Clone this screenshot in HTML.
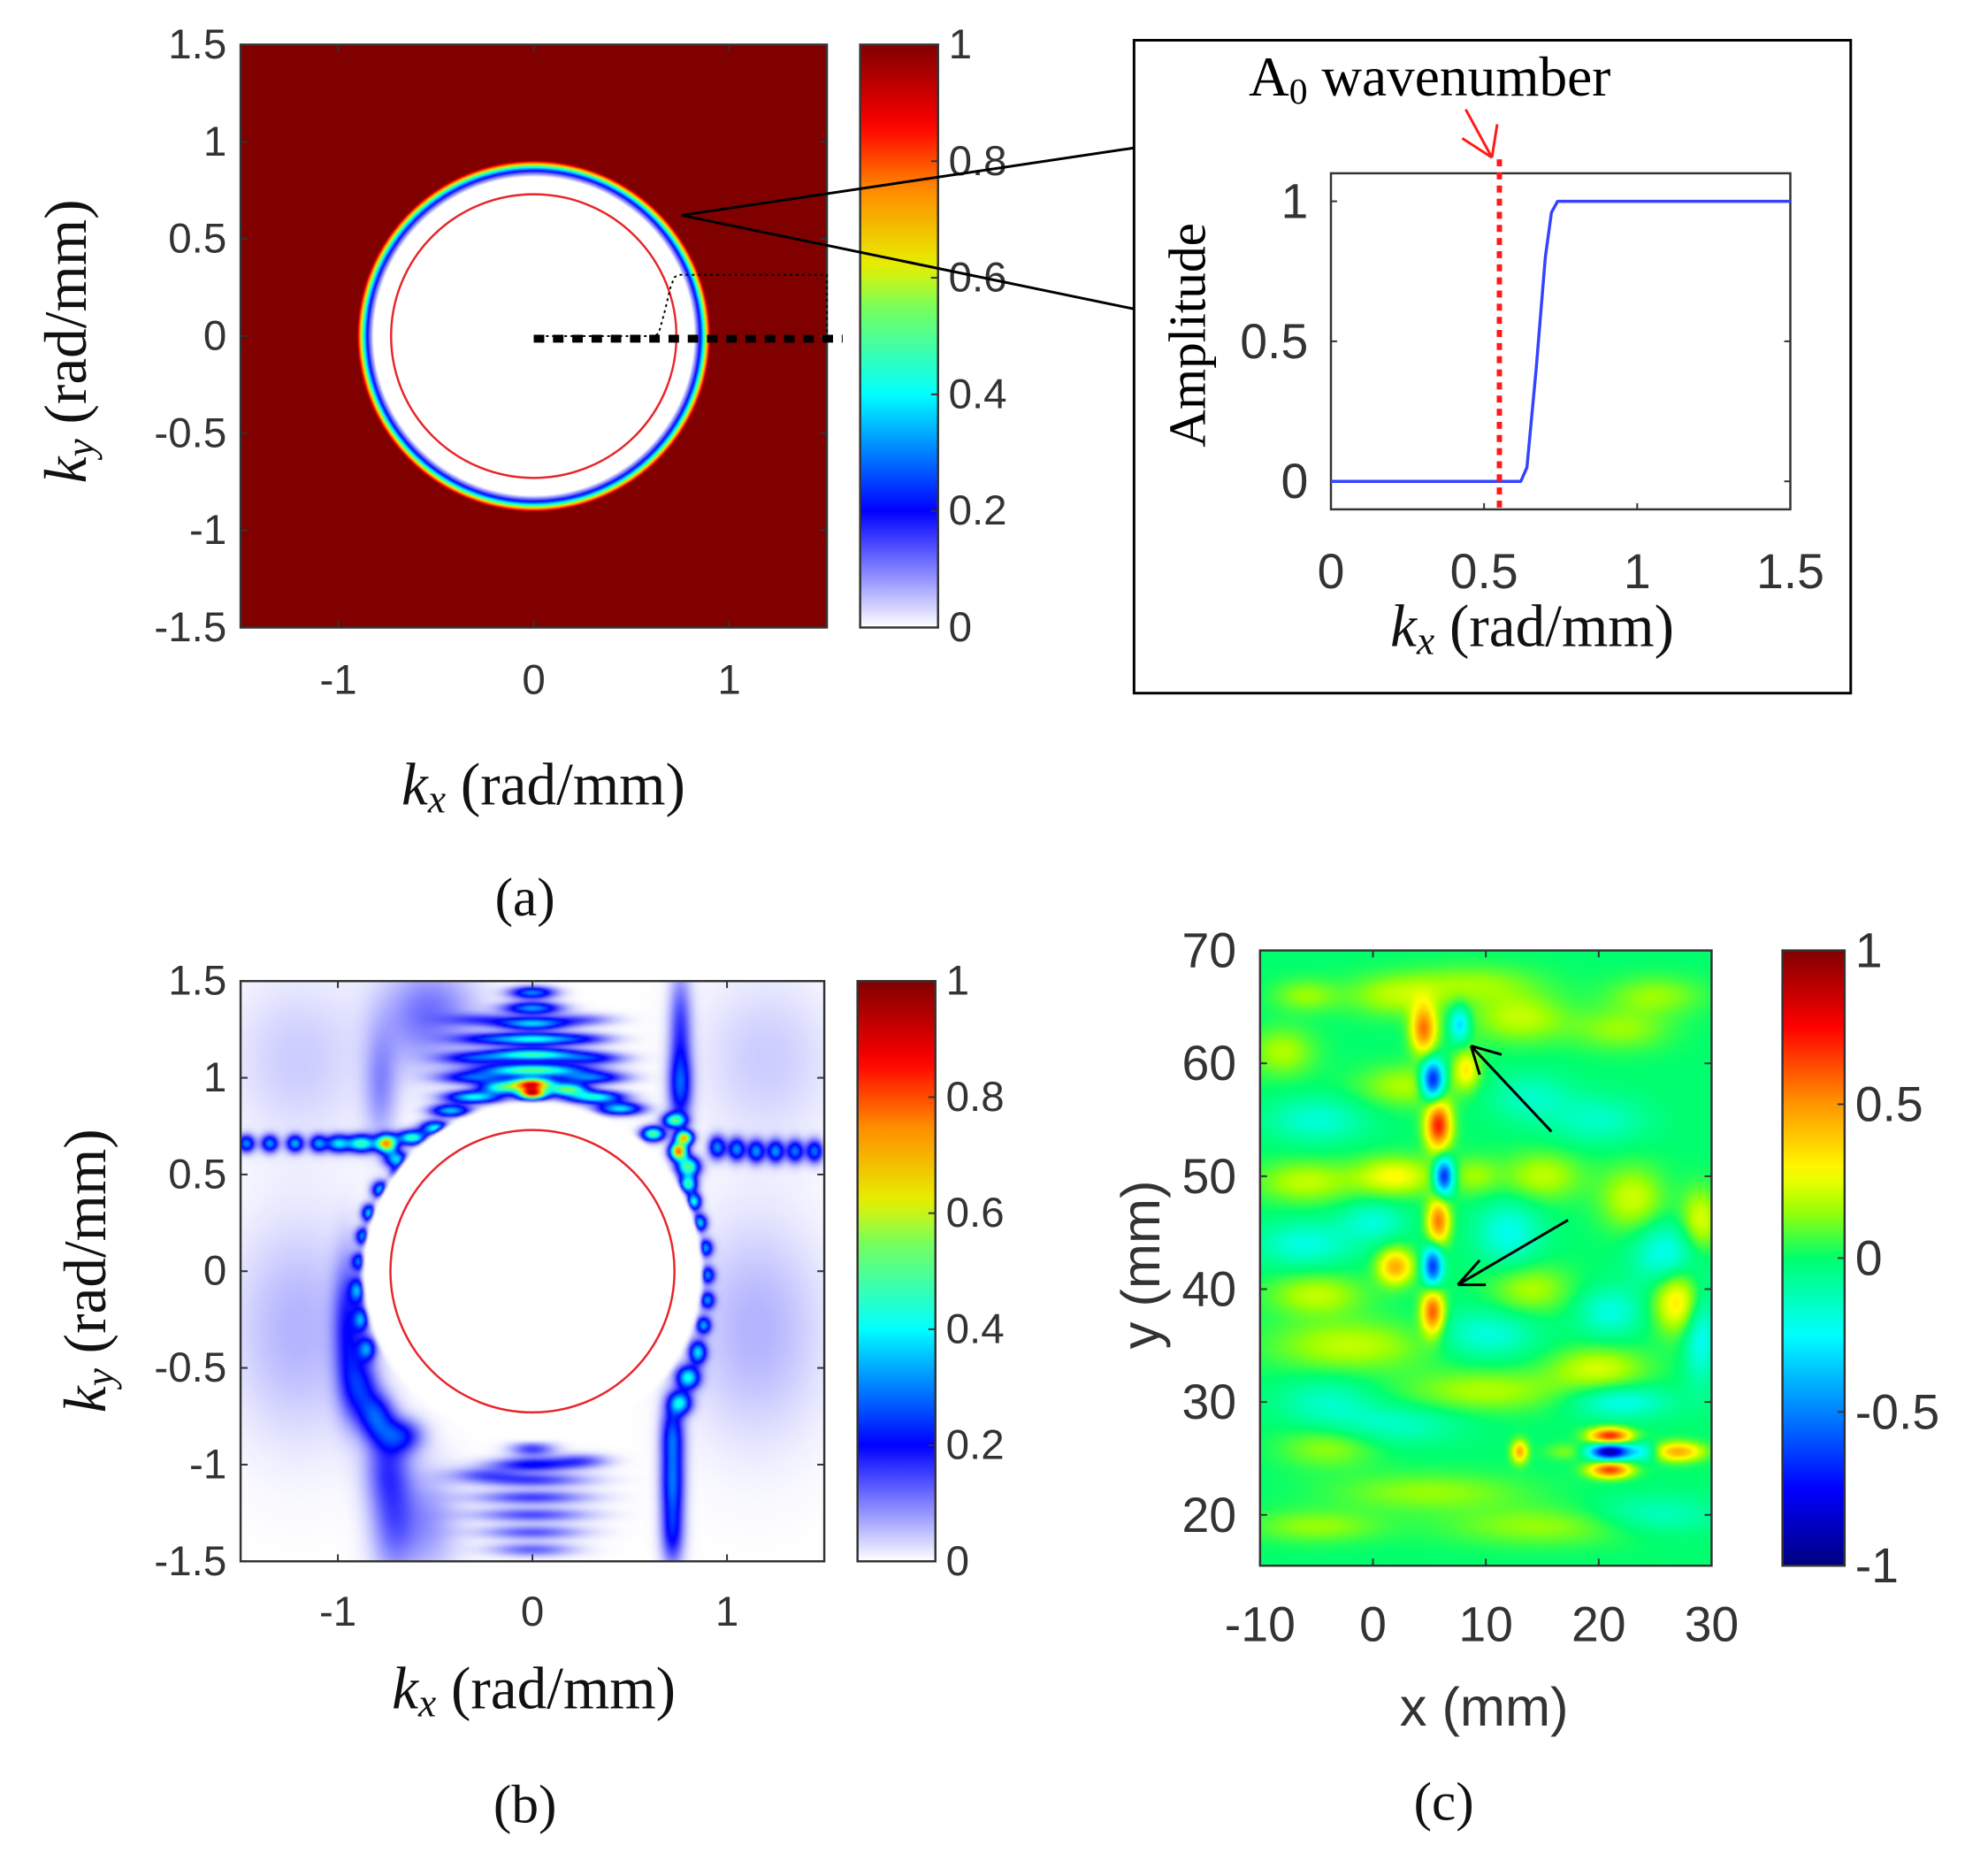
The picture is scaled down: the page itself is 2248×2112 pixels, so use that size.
<!DOCTYPE html>
<html><head><meta charset="utf-8"><style>
html,body{margin:0;padding:0;background:#fff;}
#outer{position:relative;width:2248px;height:2112px;overflow:hidden;background:#fff;}
#root{position:absolute;left:0;top:0;width:2248px;height:2112px;transform:scale(0.9895);transform-origin:280px 0;}
canvas{position:absolute;}
svg{position:absolute;left:0;top:0;}
</style></head><body>
<div id="outer">
<div id="root">
<canvas id="ca" style="left:272px;top:51px" width="670" height="666"></canvas>
<canvas id="cb" style="left:272px;top:1121px" width="667" height="663"></canvas>
<canvas id="cc" style="left:1437px;top:1086px" width="516" height="703"></canvas>
<svg id="ov" width="2248" height="2112"></svg>
</div>
</div>
<script>
// ---------- data ----------
const ringR = [0, 0.82, 0.845, 0.86, 0.875, 0.89, 0.905];
const ringV = [0, 0, 0.15, 0.3, 0.5, 0.75, 1];
const redCircleR = 0.73;
const profKx = [0, 0.62, 0.64, 0.67, 0.70, 0.72, 0.74, 1.5];
const profAmp = [0, 0, 0.05, 0.4, 0.8, 0.96, 1, 1];
const a0Wavenumber = 0.55;
const insetXTicks = [0, 0.5, 1, 1.5];
const insetYTicks = [0, 0.5, 1];
const kTicks = [-1, 0, 1];
const kyTicks = [1.5, 1, 0.5, 0, -0.5, -1, -1.5];
const kyTickLabels = ['1.5','1','0.5','0','-0.5','-1','-1.5'];
const cbTicks01 = [0, 0.2, 0.4, 0.6, 0.8, 1];
// panel (b): blobs [kx, ky, amp, sx, sy]
const bBlobs = [
 [0,0.92,0.85,0.05,0.022],[0,0.97,0.75,0.07,0.02],[-0.15,0.95,0.45,0.08,0.022],[0.18,0.94,0.5,0.07,0.022],
 [0,1.04,0.5,0.18,0.022],[0,1.12,0.45,0.16,0.022],[0,1.2,0.38,0.14,0.022],[0,1.28,0.35,0.12,0.022],
 [0,1.36,0.32,0.1,0.022],[0,1.44,0.3,0.08,0.022],
 [-0.3,0.9,0.4,0.1,0.022],[0.32,0.9,0.42,0.1,0.022],[-0.42,0.83,0.35,0.07,0.022],[0.45,0.84,0.38,0.08,0.022],
 [-0.3,1.0,0.25,0.12,0.022],[0.3,1.0,0.28,0.12,0.022],[-0.3,1.1,0.2,0.12,0.022],[0.3,1.1,0.2,0.12,0.022],
 [-0.25,1.2,0.15,0.12,0.022],[0.25,1.2,0.15,0.12,0.022],[-0.25,1.3,0.12,0.12,0.022],[0.25,1.3,0.12,0.12,0.022],
 [-0.75,0.66,0.7,0.035,0.03],[-0.62,0.69,0.45,0.05,0.025],[-0.88,0.66,0.45,0.05,0.03],[-0.5,0.74,0.4,0.05,0.025],
 [-1.0,0.66,0.35,0.04,0.03],[-1.1,0.66,0.3,0.03,0.03],[-1.22,0.66,0.32,0.03,0.03],[-1.35,0.66,0.3,0.03,0.03],[-1.47,0.66,0.3,0.03,0.03],
 [-0.7,0.58,0.35,0.04,0.03],[-0.68,0.5,0.35,0.03,0.03],
 [0.75,0.62,0.75,0.03,0.03],[0.78,0.69,0.65,0.03,0.025],[0.62,0.71,0.5,0.04,0.025],[0.8,0.54,0.5,0.04,0.035],
 [0.73,0.78,0.45,0.04,0.025],[0.8,0.45,0.45,0.03,0.03],[0.83,0.36,0.4,0.025,0.03],
 [0.95,0.64,0.3,0.03,0.04],[1.05,0.63,0.3,0.03,0.04],[1.15,0.62,0.3,0.03,0.04],[1.25,0.62,0.3,0.03,0.04],[1.35,0.62,0.28,0.03,0.04],[1.45,0.62,0.28,0.03,0.04],
 [-0.78,0.42,0.35,0.03,0.03],[-0.84,0.3,0.35,0.025,0.03],[-0.87,0.18,0.3,0.025,0.03],[-0.89,0.05,0.25,0.025,0.03],
 [-0.9,-0.1,0.25,0.025,0.04],[-0.88,-0.25,0.25,0.025,0.04],[-0.85,-0.4,0.25,0.03,0.04],
 [0.86,0.25,0.35,0.025,0.03],[0.89,0.12,0.3,0.025,0.03],[0.9,-0.02,0.28,0.025,0.03],[0.9,-0.15,0.28,0.025,0.03],[0.88,-0.28,0.3,0.025,0.03],
 [0.85,-0.42,0.35,0.03,0.04],[0.8,-0.55,0.4,0.04,0.04],[0.76,-0.68,0.35,0.04,0.04],
 [-0.95,-0.3,0.16,0.05,0.25],[-0.88,-0.6,0.18,0.06,0.12],[-0.8,-0.75,0.2,0.06,0.08],[-0.68,-0.85,0.18,0.08,0.06],
 [-0.75,-1.0,0.12,0.08,0.15],[-0.72,-1.3,0.1,0.08,0.2],
 [0.72,-0.85,0.25,0.04,0.12],[0.72,-1.1,0.24,0.04,0.12],[0.72,-1.35,0.2,0.04,0.12],
 [0.76,0.95,0.22,0.04,0.12],[0.76,1.25,0.15,0.04,0.2],[-0.78,0.95,0.08,0.06,0.2],[-0.6,1.3,0.07,0.15,0.2],
 [0,-0.92,0.15,0.08,0.025],[0,-1.0,0.2,0.15,0.025],[0,-1.08,0.15,0.2,0.025],[0,-1.17,0.15,0.2,0.025],
 [0,-1.26,0.14,0.2,0.025],[0,-1.35,0.13,0.18,0.025],[0,-1.44,0.12,0.15,0.025],[-0.25,-1.05,0.1,0.12,0.025],[0.25,-0.98,0.12,0.1,0.025],
 [-1.2,-0.3,0.06,0.25,0.4],[1.15,-0.3,0.06,0.25,0.4],[-1.2,1.1,0.04,0.25,0.3],[1.2,1.1,0.04,0.25,0.3],
 [-0.55,-1.3,0.08,0.12,0.2],[-0.45,1.35,0.06,0.15,0.15]
];
const bHoleR = 0.86;
// panel (c): blobs [x, y, amp, sx, sy]
const cBlobs = [
 [4.5,63,0.55,0.8,1.5],[7.7,63.5,-0.35,0.6,1.1],[5.3,58.5,-0.8,0.7,1.2],[8.3,59.5,0.3,0.8,1.2],
 [5.8,54.5,0.7,0.8,1.5],[6.3,50,-0.75,0.6,1.1],[2,50,0.28,2.5,1.2],[9,50,0.15,1.5,1.2],
 [5.8,46,0.55,0.7,1.4],[5.3,42,-0.65,0.6,1.2],[2,42,0.45,1.1,1.1],[5.3,38,0.6,0.7,1.4],
 [21,27,0.7,1.3,0.5],[21,25.6,-0.95,1.2,0.5],[21,24,0.65,1.3,0.5],[27,25.6,0.45,1.6,0.6],[13,25.6,0.45,0.5,0.7],
 [17,25.6,0.12,1.2,0.5],[24,25.6,-0.25,1,0.6],
 [-6,49.5,0.2,3,1.3],[-5,55,-0.18,3,1.4],[-6,44,-0.2,3,1.4],[-5,39.5,0.2,3,1.3],[-2,35,0.2,5,1.6],
 [-4,30,-0.15,3,1.5],[-4,26,0.15,3,1.3],[3,58,0.18,3,1.3],[2,66,0.18,3,1.3],[-6,66,0.15,2,1],[-8,61,0.18,2,1.5],
 [12,45,-0.22,2,2],[15,50,0.2,2.5,1.5],[14,57,-0.15,2.5,1.5],[13,64,0.2,3,1.5],[22,63,0.15,3,1.3],
 [20,55,-0.15,3,1.5],[23,48,0.22,2,2],[26,43,-0.25,2,2],[27,39,0.35,1.5,2],[29,46,0.25,1.2,2],
 [29,36,-0.25,1,3],[21,38,-0.2,2,1.5],[20,33,0.22,3,1.3],[22,30,-0.22,3,1],[10,31,0.18,5,1.3],
 [2,28,-0.15,4,1.2],[5,22,0.15,6,1.2],[15,19,0.15,6,1.2],[-5,19,0.15,4,1],[25,20,-0.15,4,1.2],
 [10,36,-0.2,3,1.5],[14,40,0.18,2.5,1.5],[0,46,-0.18,2,1.2],[9,67,0.15,4,1.2],[25,66,0.15,3,1.2]
];
const cXTicks = [-10, 0, 10, 20, 30];
const cYTicks = [70, 60, 50, 40, 30, 20];
const cCbTicks = [1, 0.5, 0, -0.5, -1];
const cCbLabels = ['1','0.5','0','-0.5','-1'];

// ---------- colormaps ----------
function cl(v){return Math.max(0,Math.min(1,v));}
function mk(stops){return function(t){t=cl(t);for(let i=1;i<stops.length;i++){if(t<=stops[i][0]){const a=stops[i-1],b=stops[i];const f=(t-a[0])/(b[0]-a[0]);return a[1].map((v,k)=>Math.round(v+(b[1][k]-v)*f));}}return stops[stops.length-1][1];};}
const wjet=mk([[0,[255,255,255]],[0.2,[0,0,255]],[0.4,[0,255,255]],[0.55,[120,255,90]],[0.62,[230,240,0]],[0.75,[255,140,0]],[0.86,[255,0,0]],[1,[128,0,0]]]);
const cjet=mk([[0,[0,0,128]],[0.125,[0,0,255]],[0.25,[0,130,255]],[0.375,[0,255,255]],[0.5,[0,255,110]],[0.58,[160,255,0]],[0.64,[255,255,0]],[0.75,[255,150,0]],[0.875,[255,0,0]],[1,[128,0,0]]]);
function interp(xs,ys,x){if(x<=xs[0])return ys[0];for(let i=1;i<xs.length;i++){if(x<=xs[i]){return ys[i-1]+(ys[i]-ys[i-1])*(x-xs[i-1])/(xs[i]-xs[i-1]);}}return ys[ys.length-1];}

function drawField(id,xmin,xmax,ymin,ymax,fn,cmap,res){
 const c=document.getElementById(id),W=c.width,H=c.height;
 const gw=Math.round(W/res),gh=Math.round(H/res);
 const off=document.createElement('canvas');off.width=gw;off.height=gh;
 const ox=off.getContext('2d'),img=ox.createImageData(gw,gh);
 for(let j=0;j<gh;j++)for(let i=0;i<gw;i++){
  const x=xmin+(i+0.5)/gw*(xmax-xmin),y=ymax-(j+0.5)/gh*(ymax-ymin);
  const col=cmap(fn(x,y));const p=(j*gw+i)*4;
  img.data[p]=col[0];img.data[p+1]=col[1];img.data[p+2]=col[2];img.data[p+3]=255;}
 ox.putImageData(img,0,0);
 const ctx=c.getContext('2d');ctx.imageSmoothingEnabled=true;ctx.imageSmoothingQuality='high';
 ctx.drawImage(off,0,0,W,H);
}
drawField('ca',-1.5,1.5,-1.5,1.5,(x,y)=>interp(ringR,ringV,Math.hypot(x,y)),wjet,1);
drawField('cb',-1.5,1.5,-1.5,1.5,(x,y)=>{const r=Math.hypot(x,y);if(r<bHoleR)return 0;let s=0;
 for(const b of bBlobs){const dx=(x-b[0])/b[3],dy=(y-b[1])/b[4];s+=b[2]*Math.exp(-0.5*(dx*dx+dy*dy));}
 const edge=cl((r-bHoleR)/0.03);return Math.min(1,s)*edge;},wjet,2);
drawField('cc',-10,30,15.5,70,(x,y)=>{let s=0;
 for(const b of cBlobs){const dx=(x-b[0])/b[3],dy=(y-b[1])/b[4];s+=b[2]*Math.exp(-0.5*(dx*dx+dy*dy));}
 return (Math.max(-1,Math.min(1,s))+1)/2;},cjet,2);

// ---------- SVG overlay ----------
const NS='http://www.w3.org/2000/svg';const ov=document.getElementById('ov');
function el(tag,attrs,parent){const e=document.createElementNS(NS,tag);for(const k in attrs)e.setAttribute(k,attrs[k]);(parent||ov).appendChild(e);return e;}
function txt(s,x,y,anchor,size,family,extra){const t=el('text',Object.assign({x:x,y:y,'text-anchor':anchor,'font-size':size,'font-family':family,fill:'#222','dominant-baseline':'central'},extra||{}));t.textContent=s;return t;}
const SANS='"Liberation Sans", Arial, sans-serif',SERIF='"Liberation Serif", serif';

const defs=el('defs',{});
function grad(id,cmap){const g=el('linearGradient',{id:id,x1:0,y1:1,x2:0,y2:0},defs);
 for(let i=0;i<=40;i++){const t=i/40;const c=cmap(t);el('stop',{offset:t,'stop-color':'rgb('+c.join(',')+')'},g);}}
grad('gW',wjet);grad('gJ',cjet);

function axisBox(L,T,R,B,name){const r=el('rect',{x:L,y:T,width:R-L,height:B-T,fill:'none',stroke:'#333','stroke-width':2.5});
 }

const TF=48;
function kPanel(L,T,R,B,xlabY,prefix){
 const sx=v=>L+(v+1.5)/3*(R-L),sy=v=>B-(v+1.5)/3*(B-T);
 const c=el('ellipse',{cx:sx(0),cy:sy(0),rx:sx(redCircleR)-sx(0),ry:sy(0)-sy(redCircleR),fill:'none',stroke:'#e8262a','stroke-width':2.5});
 
 axisBox(L,T,R,B,prefix+'-axes');
 kTicks.forEach(v=>{el('line',{x1:sx(v),x2:sx(v),y1:B,y2:B-8,stroke:'#333','stroke-width':2});el('line',{x1:sx(v),x2:sx(v),y1:T,y2:T+8,stroke:'#333','stroke-width':2});
  const t=txt(String(v),sx(v),xlabY,'middle',TF,SANS,{fill:'#333'});});
 kyTicks.forEach((v,i)=>{el('line',{x1:L,x2:L+8,y1:sy(v),y2:sy(v),stroke:'#333','stroke-width':2});el('line',{x1:R,x2:R-8,y1:sy(v),y2:sy(v),stroke:'#333','stroke-width':2});
  const t=txt(kyTickLabels[i],L-16,sy(v),'end',TF,SANS,{fill:'#333'});});
 return {sx,sy};
}
function colorbar(L,T,R,B,gid,ticks,labels,vmin,vmax,prefix,fs){
 const r=el('rect',{x:L,y:T,width:R-L,height:B-T,fill:'url(#'+gid+')',stroke:'#333','stroke-width':2.5});
 
 ticks.forEach((v,i)=>{const y=B-(v-vmin)/(vmax-vmin)*(B-T);
  el('line',{x1:R,x2:R-8,y1:y,y2:y,stroke:'#333','stroke-width':2});
  const t=txt(labels[i],R+12,y,'start',fs||TF,SANS,{fill:'#333'});});
}
function kxTitle(x,y,prefix){const t=el('text',{x:x,y:y,'text-anchor':'middle','font-size':68,'font-family':SERIF,fill:'#111','dominant-baseline':'central'});
 
 const a=el('tspan',{'font-style':'italic'},t);a.textContent='k';const b=el('tspan',{'font-style':'italic','font-size':46,dy:16},t);b.textContent='x';
 const c=el('tspan',{dy:-16},t);c.textContent=' (rad/mm)';}
function kyTitle(x,y,prefix){const t=el('text',{x:0,y:0,'text-anchor':'middle','font-size':68,'font-family':SERIF,fill:'#111','dominant-baseline':'central',transform:'translate('+x+','+y+') rotate(-90)'});
 
 const a=el('tspan',{'font-style':'italic'},t);a.textContent='k';const b=el('tspan',{'font-style':'italic','font-size':46,dy:16},t);b.textContent='y';
 const c=el('tspan',{dy:-16},t);c.textContent=' (rad/mm)';}

// panel a
const pa=kPanel(272,51,942,717,777,'panel-a');
el('line',{x1:pa.sx(0),y1:pa.sy(0)+3,x2:pa.sx(1.5)+18,y2:pa.sy(0)+3,stroke:'#000','stroke-width':9,'stroke-dasharray':'12 10'});
const dp=profKx.map((k,i)=>'L'+pa.sx(k)+','+(pa.sy(0)-profAmp[i]*70));
const dl=el('path',{d:'M'+pa.sx(0)+','+pa.sy(0)+' '+dp.join(' ')+' L'+pa.sx(1.5)+','+pa.sy(0),fill:'none',stroke:'#000','stroke-width':2,'stroke-dasharray':'3 4'});

colorbar(980,51,1069,717,'gW',cbTicks01,cbTicks01.map(String),0,1,'panel-a');
kxTitle(618,896,'panel-a');kyTitle(72,390,'panel-a');
txt('(a)',597,1026,'middle',62,SERIF,{fill:'#111'});
el('polyline',{points:'776,246 1293,169',stroke:'#000','stroke-width':3,fill:'none'});
el('polyline',{points:'776,246 1293,353',stroke:'#000','stroke-width':3,fill:'none'});
// inset
const ib=el('rect',{x:1293,y:46,width:819,height:746,fill:'none',stroke:'#000','stroke-width':3});
const IL=1518,IR=2043,IT=198,IB=582;
const ix=v=>IL+v/1.5*(IR-IL),iy=v=>IB-(v+0.1)/1.2*(IB-IT);
axisBox(IL,IT,IR,IB,'inset-axes');
insetXTicks.forEach(v=>{el('line',{x1:ix(v),x2:ix(v),y1:IB,y2:IB-7,stroke:'#333','stroke-width':2});
 txt(String(v),ix(v),653,'middle',56,SANS,{fill:'#333'});});
insetYTicks.forEach(v=>{el('line',{x1:IL,x2:IL+7,y1:iy(v),y2:iy(v),stroke:'#333','stroke-width':2});el('line',{x1:IR,x2:IR-7,y1:iy(v),y2:iy(v),stroke:'#333','stroke-width':2});
 txt(String(v),1492,iy(v),'end',56,SANS,{fill:'#333'});});
const ipath=el('path',{d:profKx.map((k,i)=>(i?'L':'M')+ix(k)+','+iy(profAmp[i])).join(' '),fill:'none',stroke:'#3344ff','stroke-width':3.5,'stroke-linejoin':'round'});

const rl=el('line',{x1:ix(a0Wavenumber),x2:ix(a0Wavenumber),y1:182,y2:IB+5,stroke:'#ff1a1a','stroke-width':6,'stroke-dasharray':'8 7'});

el('path',{d:'M1672,125 L1702,180 M1702,180 L1668,158 M1702,180 L1708,142',stroke:'#ff1a1a','stroke-width':3,fill:'none'});
const at=el('text',{x:1424,y:88,'font-size':64,'font-family':SERIF,fill:'#000','dominant-baseline':'central'});
el('tspan',{},at).textContent='A';const sub=el('tspan',{'font-size':42,dy:16},at);sub.textContent='0';const rest=el('tspan',{dy:-16},at);rest.textContent=' wavenumber';
const amp=txt('Amplitude',1354,383,'middle',60,SERIF,{fill:'#000',transform:'rotate(-90 1354 383)'});
kxTitle(1748,715,'inset');

// panel b
kPanel(272,1121,939,1784,1842,'panel-b');
colorbar(977,1121,1066,1784,'gW',cbTicks01,cbTicks01.map(String),0,1,'panel-b');
kxTitle(607,1929,'panel-b');kyTitle(94,1452,'panel-b');
txt('(b)',597,2062,'middle',62,SERIF,{fill:'#111'});

// panel c
const CL=1437,CR=1953,CT=1086,CB=1789;
const cx=v=>CL+(v+10)/40*(CR-CL),cy=v=>CB-(v-15.5)/54.5*(CB-CT);
axisBox(CL,CT,CR,CB,'panel-c-axes');
cXTicks.forEach(v=>{el('line',{x1:cx(v),x2:cx(v),y1:CB,y2:CB-8,stroke:'#333','stroke-width':2});el('line',{x1:cx(v),x2:cx(v),y1:CT,y2:CT+8,stroke:'#333','stroke-width':2});
 txt(String(v),cx(v),1856,'middle',56,SANS,{fill:'#333'});});
cYTicks.forEach(v=>{el('line',{x1:CL,x2:CL+8,y1:cy(v),y2:cy(v),stroke:'#333','stroke-width':2});el('line',{x1:CR,x2:CR-8,y1:cy(v),y2:cy(v),stroke:'#333','stroke-width':2});
 txt(String(v),1410,cy(v),'end',56,SANS,{fill:'#333'});});
colorbar(2034,CT,2105,CB,'gJ',cCbTicks,cCbLabels,-1,1,'panel-c',56);
txt('x (mm)',1693,1950,'middle',62,SANS,{fill:'#333'});
txt('y (mm)',1300,1445,'middle',62,SANS,{fill:'#333',transform:'rotate(-90 1300 1445)'});
txt('(c)',1647,2059,'middle',62,SERIF,{fill:'#111'});
el('path',{d:'M1770,1293 L1678,1195 M1678,1195 L1713,1205 M1678,1195 L1688,1228',stroke:'#000','stroke-width':3,fill:'none'});
el('path',{d:'M1789,1394 L1663,1468 M1663,1468 L1688,1440 M1663,1468 L1695,1468',stroke:'#000','stroke-width':3,fill:'none'});
</script>
</body></html>
